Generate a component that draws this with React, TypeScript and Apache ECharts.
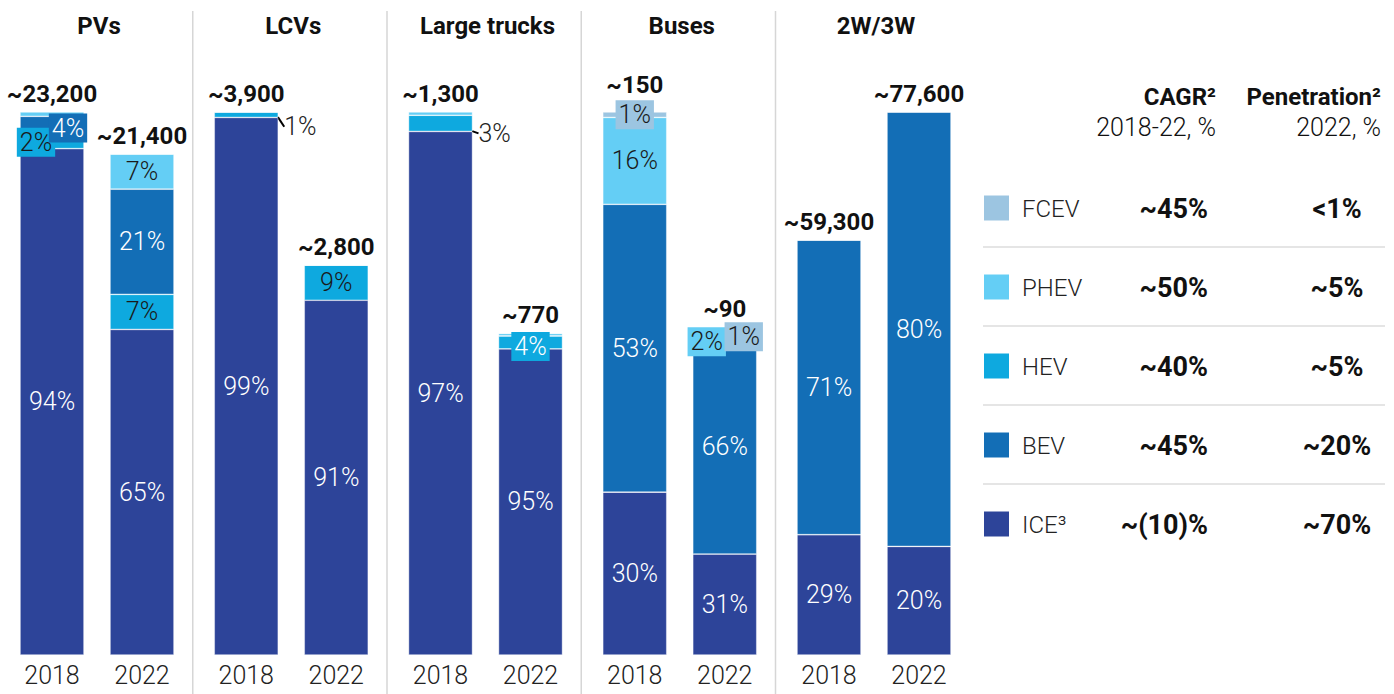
import React, { useEffect, useRef } from 'react';
import * as echarts from 'echarts';

// ---------- data ----------
const panelNames = ['PVs', 'LCVs', 'Large trucks', 'Buses', '2W/3W'];
const years = ['2018', '2022'];
const totals = [
  [23200, 21400],
  [3900, 2800],
  [1300, 770],
  [150, 90],
  [59300, 77600],
];
// shares (%) per powertrain, per panel, [2018, 2022]
const iceShare = [[94, 65], [99, 91], [97, 95], [30, 31], [29, 20]];
const hevShare = [[2, 7], [1, 9], [3, 4], [0, 0], [0, 0]];
const bevShare = [[4, 21], [0, 0], [0, 0], [53, 66], [71, 80]];
const phevShare = [[0.8, 7], [0, 0], [0.6, 0.8], [16, 2], [0, 0]];
const fcevShare = [[0, 0], [0, 0], [0, 0], [1, 1], [0, 0]];

const techNames = ['FCEV', 'PHEV', 'HEV', 'BEV', 'ICE³'];
const cagrValues = ['~45%', '~50%', '~40%', '~45%', '~(10)%'];
const penetrationValues = ['<1%', '~5%', '~5%', '~20%', '~70%'];

// ---------- styles ----------
const COLORS: Record<string, string> = {
  ICE: '#2D4499',
  HEV: '#0EA9DF',
  BEV: '#136EB6',
  PHEV: '#64CEF5',
  FCEV: '#9CC5E1',
};
const FONT = 'Roboto';
const DARK = '#1a1a1a';

const segments = [
  { name: 'ICE', shares: iceShare, text: '#ffffff' },
  { name: 'HEV', shares: hevShare, text: DARK },
  { name: 'BEV', shares: bevShare, text: '#ffffff' },
  { name: 'PHEV', shares: phevShare, text: DARK },
  { name: 'FCEV', shares: fcevShare, text: DARK },
];

// boxed labels: key panel-year-segment -> shift, text colour
const boxLabels: Record<string, { dx: number; dy: number; color?: string }> = {
  '0-0-HEV': { dx: -16, dy: -1 },
  '0-0-BEV': { dx: 16, dy: 1, color: '#ffffff' },
  '2-1-HEV': { dx: 0, dy: 4, color: '#ffffff' },
  '3-0-FCEV': { dx: 0, dy: 0 },
  '3-1-PHEV': { dx: -18, dy: 6 },
  '3-1-FCEV': { dx: 19, dy: 6 },
};
const leaderLabels: Record<string, { dx: number; dy: number }> = {
  '1-0-HEV': { dx: 4, dy: 12 },
  '2-0-HEV': { dx: 4, dy: 10 },
};

const GRID_LEFT0 = 7;
const PANEL_STEP = 194.25;
const GRID_W = 180;
const GRID_TOP = 112;
const GRID_BOTTOM = 39;
const BAR_W = 64;

function fmtTotal(n: number) {
  return '~' + n.toLocaleString('en-US');
}

function buildOption() {
  const grid: any[] = [];
  const xAxis: any[] = [];
  const yAxis: any[] = [];
  const series: any[] = [];
  const graphic: any[] = [];

  panelNames.forEach((pname, p) => {
    const left = GRID_LEFT0 + p * PANEL_STEP;
    grid.push({ left, width: GRID_W, top: GRID_TOP, bottom: GRID_BOTTOM });
    xAxis.push({
      type: 'category',
      gridIndex: p,
      data: years,
      axisLine: { show: false },
      axisTick: { show: false },
      axisLabel: { fontSize: 25, color: '#222', fontFamily: FONT, fontWeight: 300, margin: 8 },
    });
    yAxis.push({
      type: 'value',
      gridIndex: p,
      min: 0,
      max: Math.max(...totals[p]),
      show: false,
      splitLine: { show: false },
    });

    // totals (transparent bar carrying the top label)
    series.push({
      type: 'bar',
      xAxisIndex: p,
      yAxisIndex: p,
      barWidth: BAR_W,
      barGap: '-100%',
      silent: true,
      z: 1,
      itemStyle: { color: 'rgba(0,0,0,0)' },
      data: totals[p].map((t, yi) => ({
        value: t,
        label: { distance: p === 3 && yi === 0 ? 15 : p === 3 ? 8 : 6 },
      })),
      label: {
        show: true,
        position: 'top',
        formatter: (prm: any) => fmtTotal(prm.value),
        fontFamily: FONT,
        fontWeight: 'bold',
        fontSize: 24,
        color: '#111',
      },
    });

    segments.forEach((seg) => {
      const data = years.map((_, yi) => {
        const sh = seg.shares[p][yi];
        const sum = segments.reduce((a, g) => a + g.shares[p][yi], 0);
        const value = (totals[p][yi] * sh) / sum;
        const key = `${p}-${yi}-${seg.name}`;
        const box = boxLabels[key];
        const leader = leaderLabels[key];
        const label: any = {
          show: sh >= 1,
          formatter: `${sh}%`,
          position: 'inside',
          color: seg.text,
          fontFamily: FONT,
          fontWeight: 300,
          fontSize: 25,
        };
        const item: any = { value };
        if (box) {
          Object.assign(label, {
            backgroundColor: COLORS[seg.name],
            padding: [3, 3, 1, 3],
            color: box.color || seg.text,
          });
        }
        if (leader) {
          Object.assign(label, { position: 'right', distance: 2, color: '#222' });
          item.labelLine = { show: true, lineStyle: { color: '#000', width: 2 } };
        }
        item.label = label;
        return item;
      });
      series.push({
        type: 'bar',
        name: seg.name,
        xAxisIndex: p,
        yAxisIndex: p,
        stack: 'p' + p,
        barWidth: BAR_W,
        barGap: '-100%',
        z: 2,
        itemStyle: { color: COLORS[seg.name], borderColor: 'rgba(255,255,255,0.55)', borderWidth: 0.7 },
        labelLayout: (prm: any) => {
          const key = `${p}-${prm.dataIndex}-${seg.name}`;
          const s = boxLabels[key] || leaderLabels[key];
          return s ? { dx: s.dx, dy: s.dy } : {};
        },
        data,
      });
    });

    // panel title
    graphic.push({
      type: 'text',
      x: left + GRID_W / 2 + 2,
      y: 26,
      style: {
        text: pname,
        font: `bold 24px ${FONT}`,
        fill: '#111',
        align: 'center',
        verticalAlign: 'middle',
      },
    });
    if (p > 0) {
      const sx = left - 8.5;
      graphic.push({
        type: 'line',
        shape: { x1: sx, y1: 11, x2: sx, y2: 694 },
        style: { stroke: '#d6d6d6', lineWidth: 1.5 },
      });
    }
  });

  // ---------- right-hand table ----------
  const headerStyle = (text: string, x: number, y: number, bold: boolean) => ({
    type: 'text',
    x,
    y,
    style: {
      text,
      font: `${bold ? 'bold' : '300'} ${bold ? 24 : 25}px ${FONT}`,
      fill: '#111',
      align: 'right',
      verticalAlign: 'middle',
    },
  });
  graphic.push(headerStyle('CAGR²', 1216, 97, true));
  graphic.push(headerStyle('2018-22, %', 1216, 127, false));
  graphic.push(headerStyle('Penetration²', 1381, 97, true));
  graphic.push(headerStyle('2022, %', 1381, 127, false));

  const techKeys = ['FCEV', 'PHEV', 'HEV', 'BEV', 'ICE'];
  techNames.forEach((name, i) => {
    const cy = 208 + i * 79;
    graphic.push({
      type: 'rect',
      shape: { x: 984, y: cy - 12.5, width: 25, height: 25 },
      style: { fill: COLORS[techKeys[i]] },
    });
    graphic.push({
      type: 'text',
      x: 1022,
      y: cy + 1,
      style: { text: name, font: `300 24px ${FONT}`, fill: '#222', align: 'left', verticalAlign: 'middle' },
    });
    graphic.push({
      type: 'text',
      x: 1208,
      y: cy + 1,
      style: { text: cagrValues[i], font: `bold 27px ${FONT}`, fill: '#111', align: 'right', verticalAlign: 'middle' },
    });
    graphic.push({
      type: 'text',
      x: 1337,
      y: cy + 1,
      style: { text: penetrationValues[i], font: `bold 27px ${FONT}`, fill: '#111', align: 'center', verticalAlign: 'middle' },
    });
    if (i < techNames.length - 1) {
      graphic.push({
        type: 'line',
        shape: { x1: 983, y1: cy + 39, x2: 1385, y2: cy + 39 },
        style: { stroke: '#dcdcdc', lineWidth: 1.5 },
      });
    }
  });

  return {
    animation: false,
    backgroundColor: '#ffffff',
    textStyle: { fontFamily: FONT },
    grid,
    xAxis,
    yAxis,
    series,
    graphic,
  };
}

export default function App() {
  const ref = useRef<HTMLDivElement>(null);
  useEffect(() => {
    if (!ref.current) return;
    const chart = echarts.init(ref.current, undefined, { renderer: 'svg' });
    chart.setOption(buildOption() as any);
    return () => chart.dispose();
  }, []);
  return (
    <div
      ref={ref}
      style={{ position: 'fixed', left: 0, top: 0, width: 1394, height: 694, background: '#fff' }}
    />
  );
}
